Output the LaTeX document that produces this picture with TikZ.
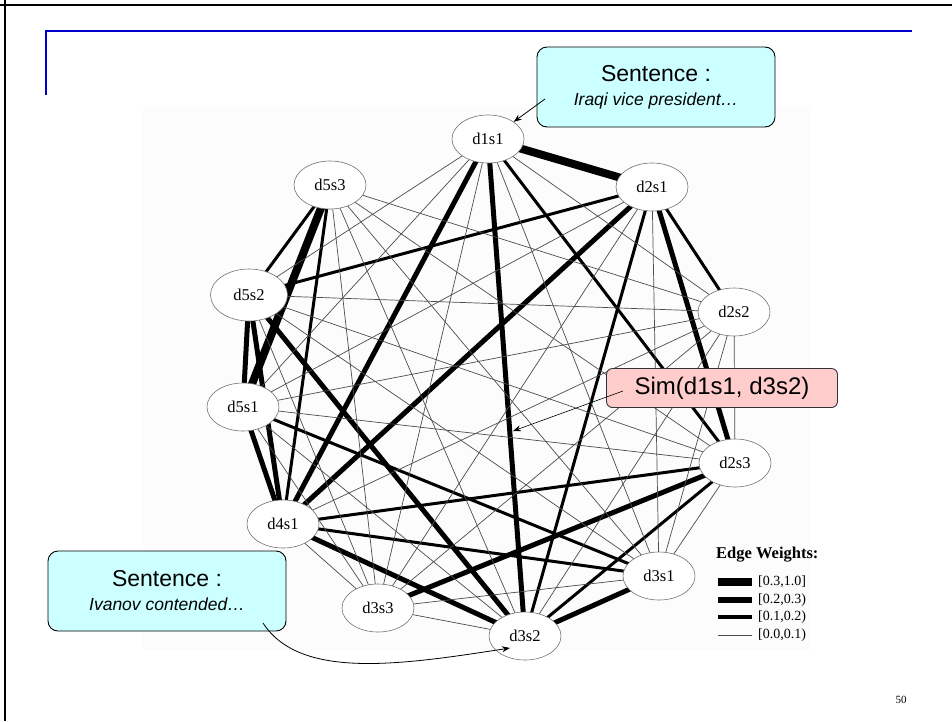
\documentclass[tikz,border=0pt]{standalone}
\usepackage{fontspec}
\setmainfont{Liberation Serif}
\newfontfamily\arialfont{Liberation Sans}
\usetikzlibrary{shapes.geometric,arrows.meta}
\pgfdeclarelayer{back}
\pgfdeclarelayer{edges}
\pgfsetlayers{back,edges,main}
\definecolor{calloutcyan}{HTML}{CCFFFF}
\definecolor{calloutpink}{HTML}{FFCCCC}
\definecolor{ruleblue}{HTML}{0000CC}

\begin{document}
\begin{tikzpicture}[x=1pt,y=-1pt,
  vtx/.style={ellipse, draw=black!55, line width=0.6pt, fill=white,
    minimum width=72pt, minimum height=48pt, inner sep=0pt,
    font=\fontsize{16.5}{18}\selectfont},
  w1/.style={line width=0.7pt, draw=black!70},
  w2/.style={line width=3pt},
  w3/.style={line width=5pt},
  w4/.style={line width=8pt},
  sentbox/.style={draw=black, line width=0.9pt, rounded corners=10pt,
    fill=calloutcyan, minimum width=238pt, minimum height=80pt,
    inner sep=0pt, align=center,
    font=\arialfont\fontsize{23}{25}\selectfont},
  simbox/.style={draw=black!80, line width=0.9pt, rounded corners=6pt,
    fill=calloutpink, minimum width=231pt, minimum height=39pt,
    inner sep=0pt, font=\arialfont\fontsize{24}{26}\selectfont},
  pointer/.style={line width=0.8pt, -{Stealth[length=8pt,width=6pt]}},
  legbar/.style={line cap=butt},
  legtext/.style={anchor=west, inner sep=0pt, font=\fontsize{14}{16}\selectfont}
]
\useasboundingbox (0,0) rectangle (952,721);

% slide frame and title rule
\draw[line width=2pt] (0,5) -- (952,5);
\draw[line width=2pt] (5,0) -- (5,721);
\draw[ruleblue, line width=2pt] (46,31) -- (912,31);
\draw[ruleblue, line width=2pt] (46,30) -- (46,95);

% faint backdrop of the graph figure
\begin{pgfonlayer}{back}
  \fill[black!1] (143,107) rectangle (810,650);
\end{pgfonlayer}

% sentence vertices
\node[vtx] (d1s1) at (488,139) {d1s1};
\node[vtx] (d2s1) at (652,187) {d2s1};
\node[vtx] (d2s2) at (734,312) {d2s2};
\node[vtx] (d2s3) at (735,463) {d2s3};
\node[vtx] (d3s1) at (659,576) {d3s1};
\node[vtx] (d3s2) at (525,636) {d3s2};
\node[vtx] (d3s3) at (378,608) {d3s3};
\node[vtx] (d4s1) at (283,524) {d4s1};
\node[vtx] (d5s1) at (243,407) {d5s1};
\node[vtx, minimum width=77pt, minimum height=52pt] (d5s2) at (249,295) {d5s2};
\node[vtx] (d5s3) at (330,185) {d5s3};

% weighted similarity edges
\begin{pgfonlayer}{edges}
  \foreach \a/\b in {d1s1/d2s1, d5s3/d5s1}
    \draw[w4] (\a.center) -- (\b.center);
  \foreach \a/\b in {d1s1/d3s2, d1s1/d4s1, d2s1/d2s3, d2s1/d4s1, d3s1/d3s2,
                     d2s3/d3s3, d3s2/d4s1, d3s2/d5s2, d4s1/d5s1, d4s1/d5s2,
                     d5s1/d5s2}
    \draw[w3] (\a.center) -- (\b.center);
  \foreach \a/\b in {d1s1/d2s3, d2s1/d2s2, d2s1/d3s2, d2s1/d5s2, d2s3/d3s2,
                     d2s3/d4s1, d3s1/d4s1, d3s1/d5s1, d4s1/d5s3, d5s2/d5s3}
    \draw[w2] (\a.center) -- (\b.center);
  \foreach \a/\b in {d1s1/d2s2, d1s1/d3s1, d1s1/d3s3, d1s1/d5s1, d1s1/d5s2,
                     d2s1/d3s1, d2s1/d3s3, d2s1/d5s1,
                     d2s2/d2s3, d2s2/d3s1, d2s2/d3s2, d2s2/d3s3, d2s2/d4s1,
                     d2s2/d5s1, d2s2/d5s2, d2s2/d5s3,
                     d2s3/d3s1, d2s3/d5s1, d2s3/d5s2, d2s3/d5s3,
                     d3s1/d3s3, d3s1/d5s2, d3s1/d5s3,
                     d3s2/d3s3, d3s2/d5s1, d3s2/d5s3,
                     d3s3/d4s1, d3s3/d5s1, d3s3/d5s2, d3s3/d5s3}
    \draw[w1] (\a.center) -- (\b.center);
\end{pgfonlayer}

% legend
\node[anchor=west, inner sep=0pt, font=\bfseries\fontsize{16.5}{18}\selectfont]
  (legtitle) at (716,555) {Edge Weights:};
\coordinate (l1a) at (718,582); \coordinate (l1b) at (752,582);
\coordinate (l2a) at (718,600); \coordinate (l2b) at (752,600);
\coordinate (l3a) at (718,617); \coordinate (l3b) at (752,617);
\coordinate (l4a) at (718,635); \coordinate (l4b) at (752,635);
\draw[legbar, line width=8.5pt] (l1a) -- (l1b);
\draw[legbar, line width=5.5pt] (l2a) -- (l2b);
\draw[legbar, line width=3.5pt] (l3a) -- (l3b);
\draw[legbar, line width=0.8pt, black!70] (l4a) -- (l4b);
\node[legtext] (leg1) at (758,582) {[0.3,1.0]};
\node[legtext] (leg2) at (758,600) {[0.2,0.3)};
\node[legtext] (leg3) at (758,617) {[0.1,0.2)};
\node[legtext] (leg4) at (758,635) {[0.0,0.1)};

% callouts
\node[sentbox] (topnote) at (656,87)
  {Sentence :\\[-1pt]{\fontsize{17.5}{20}\selectfont\itshape Iraqi vice president\ldots}};
\coordinate (topstart) at (545,99);
\draw[pointer] (topstart) -- (d1s1.north east);

\node[sentbox] (lownote) at (167,591)
  {Sentence :\\[-1pt]{\fontsize{17.5}{20}\selectfont\itshape Ivanov contended\ldots}};
\coordinate (lowstart) at (263,623);
\coordinate (lowend) at (510,648);
\draw[pointer] (lowstart) .. controls (300,680) and (400,665) .. (lowend);

\node[simbox] (simnote) at (722,388) {Sim(d1s1, d3s2)};
\coordinate (simstart) at (623,391);
\coordinate (simend) at (513,431);
\draw[pointer, line width=0.6pt] (simstart) -- (simend);

% page number
\node[font=\fontsize{11}{13}\selectfont, inner sep=0pt] (pageno) at (901,700) {50};
\end{tikzpicture}
\end{document}
